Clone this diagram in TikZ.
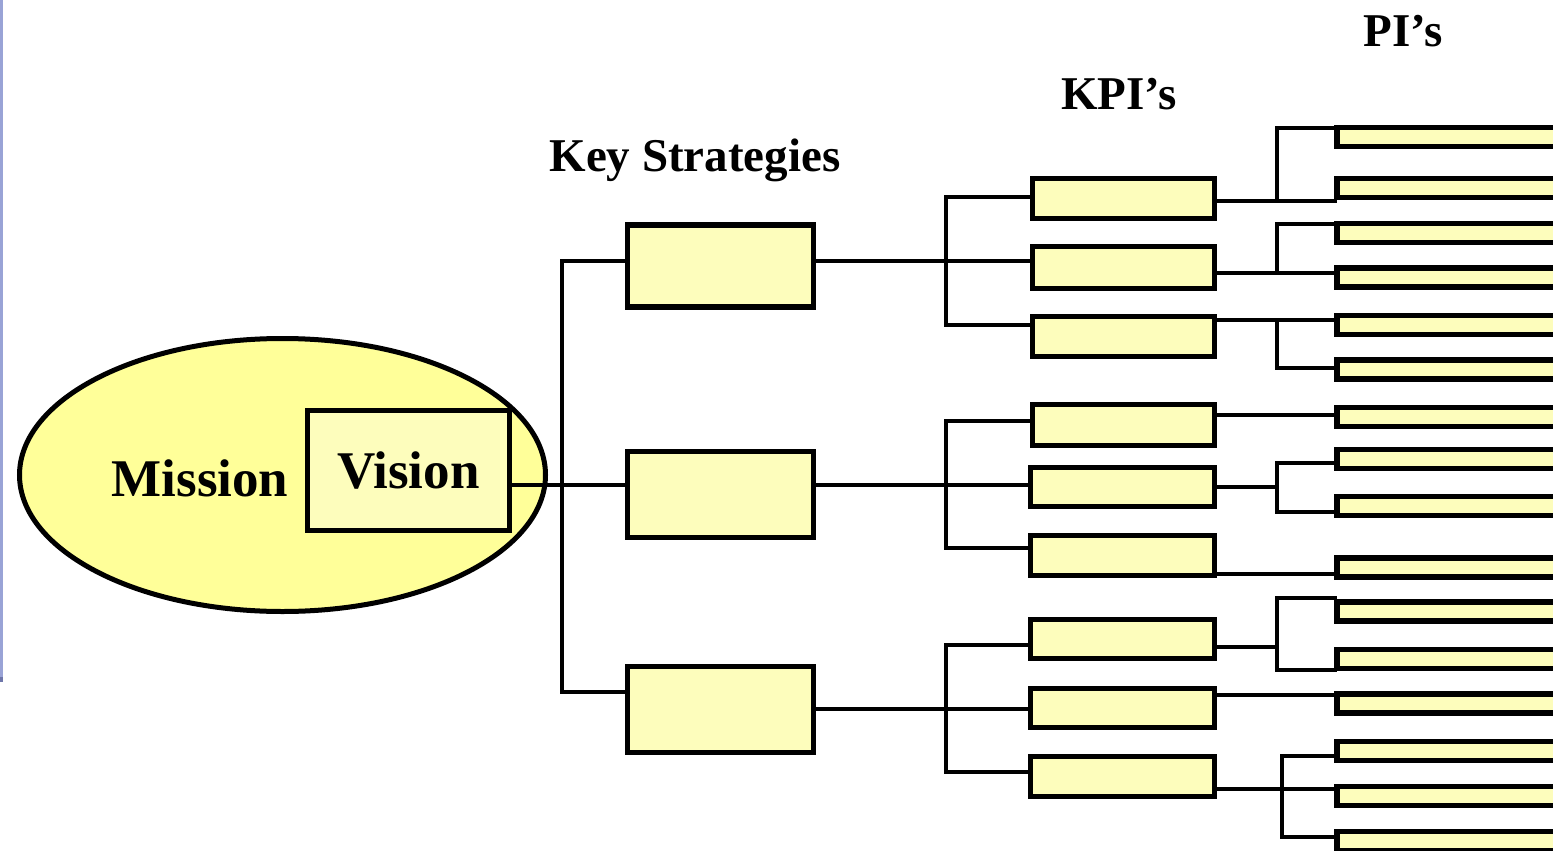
\documentclass[tikz,border=0pt]{standalone}
\usepackage{fontspec}
\setmainfont{Liberation Serif}
\usetikzlibrary{calc,shapes.geometric}
\definecolor{ellfill}{RGB}{255,255,153}
\definecolor{boxfill}{RGB}{253,253,188}
\definecolor{sidebar}{RGB}{153,163,214}
\definecolor{sidedark}{RGB}{110,118,170}
\begin{document}
\begin{tikzpicture}[x=1pt,y=-1pt,
  box/.style={draw=black, line width=5.5pt, fill=boxfill, inner sep=0pt},
  ksbox/.style={box, minimum width=186pt, minimum height=82pt},
  kpibox/.style={box, minimum height=40pt},
  pibox/.style={box, minimum width=263pt, minimum height=19pt},
  conn/.style={draw=black, line width=4.5pt, line cap=rect},
  title/.style={font=\fontsize{47}{50}\selectfont\bfseries, inner sep=0pt},
  big/.style={font=\fontsize{53}{56}\selectfont\bfseries, inner sep=0pt}]
\useasboundingbox (0,0) rectangle (1553,851);
\clip (0,0) rectangle (1553,851);
% side bar
\fill[sidebar] (0,0) rectangle (3,682);
\fill[sidedark] (0,677) rectangle (3,682);
% titles
\node[title] (tks) at (695,160) {Key Strategies};
\node[title] (tkpi) at (1119,94) {KPI’s};
\node[title] (tpi) at (1403,31) {PI’s};
% mission / vision
\node[draw=black, line width=5pt, fill=ellfill, ellipse, inner sep=0pt,
      minimum width=526pt, minimum height=273pt] (mission) at (282.5,475) {};
\node[big] (mtext) at (200,478) {Mission};
\node[box, minimum width=202pt, minimum height=120pt, big] (vision) at (408.5,470.5) {Vision};
% key strategies
\node[ksbox] (ks1) at (720.5,266) {};
\node[ksbox, minimum height=86pt] (ks2) at (720.5,494.5) {};
\node[ksbox, minimum height=86pt] (ks3) at (720.5,709.5) {};
% KPI boxes
\node[kpibox, minimum width=182pt] (k1) at (1123.5,198.5) {};
\node[kpibox, minimum width=182pt, minimum height=42pt] (k2) at (1123.5,267.5) {};
\node[kpibox, minimum width=182pt] (k3) at (1123.5,336.5) {};
\node[kpibox, minimum width=182pt, minimum height=41pt] (k4) at (1123.5,425) {};
\node[kpibox, minimum width=184pt, minimum height=39pt] (k5) at (1122.5,487) {};
\node[kpibox, minimum width=184pt] (k6) at (1122.5,555.5) {};
\node[kpibox, minimum width=184pt, minimum height=39pt] (k7) at (1122.5,639) {};
\node[kpibox, minimum width=184pt, minimum height=39pt] (k8) at (1122.5,708) {};
\node[kpibox, minimum width=184pt] (k9) at (1122.5,776.5) {};
% PI boxes
\foreach \n/\y in {1/137,2/188,3/233,4/277.5,5/325,6/369.5,7/417,8/459,9/506,10/567.5,11/611.5,12/659,13/703.5,14/751,15/796,16/841}
  \node[pibox] (p\n) at (1468.5,\y) {};
% level coordinates
\coordinate (busA) at (562,0);
\coordinate (busB) at (946,0);
\coordinate (busC) at (1277,0);
\coordinate (busD) at (1282,0);
% mission/vision to key strategies
\draw[conn] (vision.east |- 0,485) -- (ks2.west |- 0,485);
\draw[conn] (ks1.west |- 0,261) -- (busA |- 0,261) -- (busA |- 0,692) -- (ks3.west |- 0,692);
% key strategies to KPIs
\draw[conn] (ks1.east |- 0,261) -- (k2.west |- 0,261);
\draw[conn] (k1.west |- 0,197) -- (busB |- 0,197) -- (busB |- 0,325) -- (k3.west |- 0,325);
\draw[conn] (ks2.east |- 0,485) -- (k5.west |- 0,485);
\draw[conn] (k4.west |- 0,421) -- (busB |- 0,421) -- (busB |- 0,548) -- (k6.west |- 0,548);
\draw[conn] (ks3.east |- 0,709) -- (k8.west |- 0,709);
\draw[conn] (k7.west |- 0,645) -- (busB |- 0,645) -- (busB |- 0,772) -- (k9.west |- 0,772);
% KPIs to PIs
\draw[conn] (k1.east |- 0,201) -- (p2.west |- 0,201);
\draw[conn] (p1.west |- 0,128) -- (busC |- 0,128) -- (busC |- 0,201);
\draw[conn] (k2.east |- 0,273) -- (p4.west |- 0,273);
\draw[conn] (p3.west |- 0,224) -- (busC |- 0,224) -- (busC |- 0,273);
\draw[conn] (k3.east |- 0,320) -- (p5.west |- 0,320);
\draw[conn] (busC |- 0,320) -- (busC |- 0,368) -- (p6.west |- 0,368);
\draw[conn] (k4.east |- 0,415) -- (p7.west |- 0,415);
\draw[conn] (k5.east |- 0,487) -- (busC |- 0,487);
\draw[conn] (p8.west |- 0,463) -- (busC |- 0,463) -- (busC |- 0,512) -- (p9.west |- 0,512);
\draw[conn] (k6.east |- 0,574) -- (p10.west |- 0,574);
\draw[conn] (k7.east |- 0,647) -- (busC |- 0,647);
\draw[conn] (p11.west |- 0,598) -- (busC |- 0,598) -- (busC |- 0,670) -- (p12.west |- 0,670);
\draw[conn] (k8.east |- 0,695) -- (p13.west |- 0,695);
\draw[conn] (k9.east |- 0,789) -- (p15.west |- 0,789);
\draw[conn] (p14.west |- 0,756) -- (busD |- 0,756) -- (busD |- 0,837) -- (p16.west |- 0,837);
% redraw PI boxes on top of connector ends
\foreach \n/\y in {1/137,2/188,3/233,4/277.5,5/325,6/369.5,7/417,8/459,9/506,10/567.5,11/611.5,12/659,13/703.5,14/751,15/796,16/841}
  \node[pibox] at (1468.5,\y) {};
\end{tikzpicture}
\end{document}
